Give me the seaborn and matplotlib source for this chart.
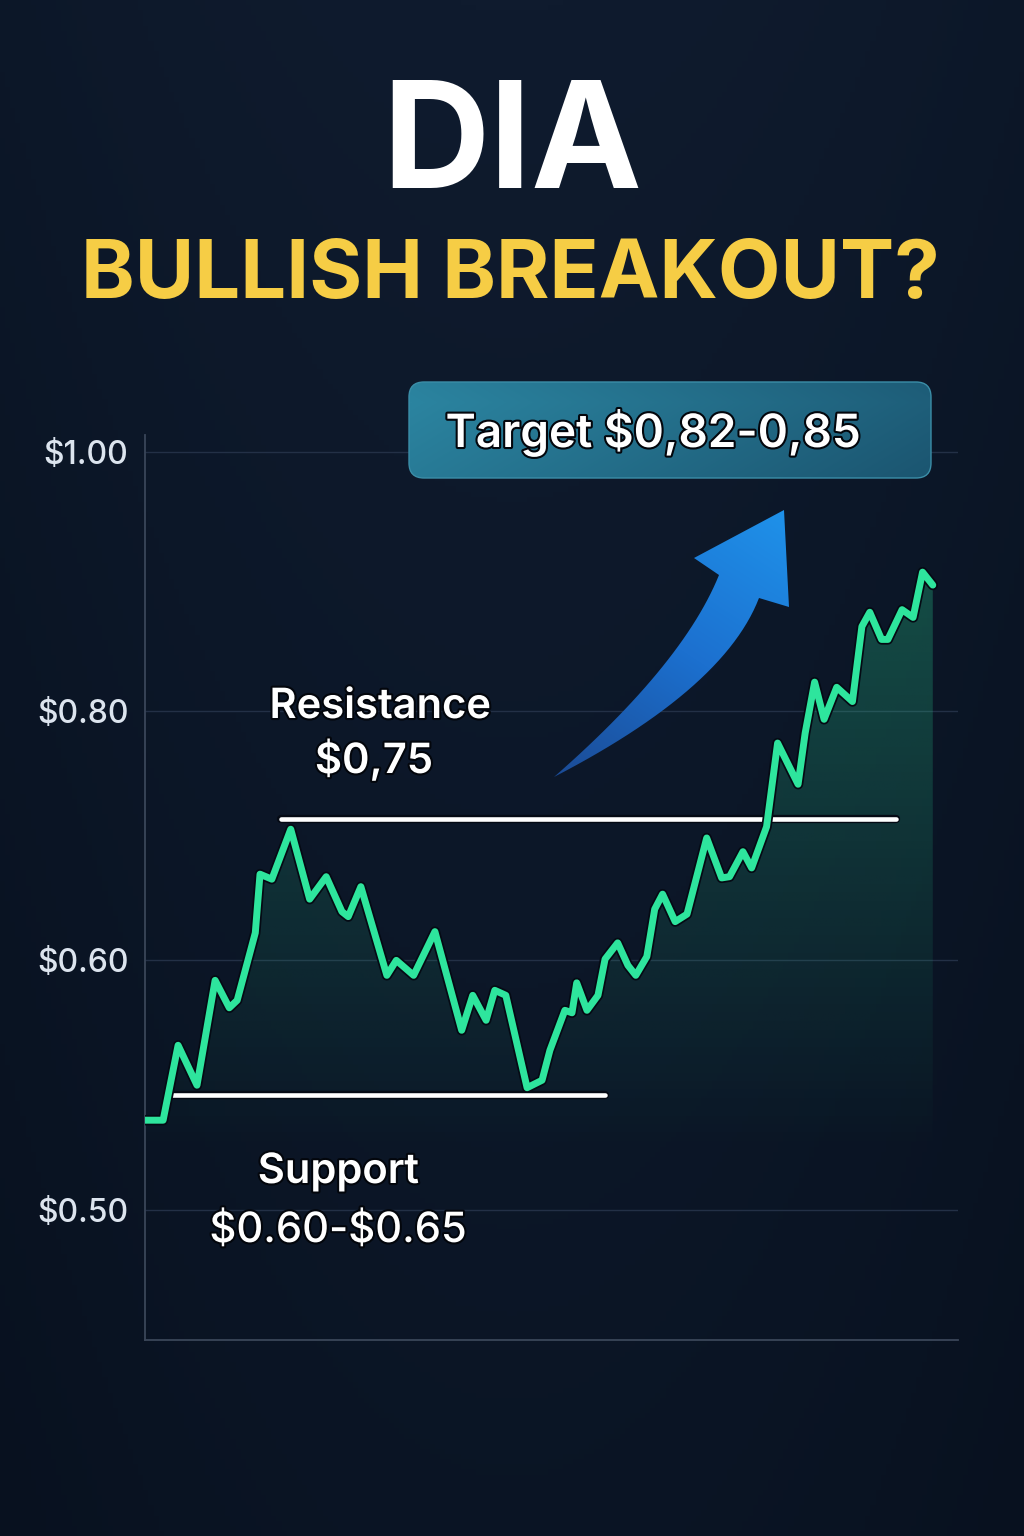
import numpy as np
import pandas as pd
import seaborn as sns
import matplotlib
matplotlib.use("Agg")
import matplotlib.pyplot as plt
import matplotlib.patheffects as pe
from matplotlib.colors import LinearSegmentedColormap
from matplotlib.patches import FancyBboxPatch, PathPatch
from matplotlib.path import Path
from matplotlib.ticker import NullLocator

# ---- data ----
days = [0, 2.3, 4.2, 6.6, 8.9, 10.7, 11.7, 14.0, 14.6, 16.1, 18.5, 20.9, 23.0, 25.0,
        25.8, 27.4, 30.7, 31.9, 34.1, 36.8, 40.2, 41.6, 43.3, 44.4, 45.8, 48.5, 50.4,
        51.4, 53.3, 54.2, 54.8, 56.1, 57.5, 58.4, 60.0, 61.3, 62.3, 63.7, 64.7, 65.7,
        67.3, 68.8, 71.3, 73.2, 74.2, 75.9, 77.0, 78.9, 80.3, 82.9, 83.8, 85.0, 86.2,
        87.8, 89.8, 91.0, 92.0, 93.5, 94.3, 96.1, 97.5, 98.7, 100.0]
prices = [0.536, 0.536, 0.566, 0.550, 0.592, 0.581, 0.584, 0.622, 0.669, 0.665,
          0.705, 0.649, 0.667, 0.639, 0.635, 0.659, 0.594, 0.600, 0.594, 0.623,
          0.572, 0.586, 0.576, 0.588, 0.586, 0.549, 0.552, 0.564, 0.580, 0.579,
          0.591, 0.580, 0.586, 0.601, 0.614, 0.598, 0.594, 0.603, 0.641, 0.653,
          0.631, 0.637, 0.698, 0.666, 0.667, 0.687, 0.674, 0.707, 0.774, 0.741,
          0.782, 0.822, 0.793, 0.818, 0.807, 0.865, 0.876, 0.855, 0.855, 0.878,
          0.872, 0.907, 0.897]

tick_values = [0.50, 0.60, 0.80, 1.00]
tick_labels = [r"\$0.50", r"\$0.60", r"\$0.80", r"\$1.00"]

resistance_level = 0.713
resistance_span = (17.3, 95.3)
support_level = 0.546
support_span = (3.4, 58.4)

title = "DIA"
subtitle = "BULLISH BREAKOUT?"
resistance_text = ["Resistance", r"\$0,75"]
support_text = ["Support", r"\$0.60-\$0.65"]
target_text = r"Target \$0,82-0,85"

# uneven price axis, as drawn in the picture
price_knots = [0.0, 0.5, 0.6, 0.8, 1.0, 2.0]
scale_knots = [-5.0, 0.0, 1.0, 2.0, 3.036, 8.216]


def forward(v):
    return np.interp(v, price_knots, scale_knots)


def inverse(u):
    return np.interp(u, scale_knots, price_knots)


BG = "#0c1628"
GREEN = "#2ee59d"
df = pd.DataFrame({"day": days, "price": prices})

sns.set_theme(style="dark")
plt.rcParams["font.family"] = ["Inter", "DejaVu Sans"]

W, H = 1024, 1536
fig = plt.figure(figsize=(W / 100, H / 100), dpi=100, facecolor=BG)


def fx(px):
    return px / W


def fy(py):
    return 1 - py / H


# background
bg_ax = fig.add_axes([0, 0, 1, 1], zorder=0)
bg_ax.axis("off")
yy = np.linspace(0, 1, 300)[:, None]
xx = np.linspace(-1, 1, 200)[None, :]
shade = 1 - 0.25 * yy - 0.15 * xx ** 2
bg_cmap = LinearSegmentedColormap.from_list("bg", ["#08111f", "#0f1b2e"])
bg_ax.imshow(shade, cmap=bg_cmap, aspect="auto", extent=[0, 1, 0, 1], vmin=0.6, vmax=1.0)

# main chart
ax = fig.add_axes([fx(145), fy(1340), fx(958) - fx(145), fy(435) - fy(1340)], zorder=1)
ax.set_facecolor("none")
ax.set_yscale("function", functions=(forward, inverse))

outline = [pe.Stroke(linewidth=7.5, foreground="#050a14"), pe.Normal()]
sns.lineplot(data=df, x="day", y="price", ax=ax, color=GREEN, linewidth=5.0,
             zorder=5, solid_joinstyle="round", solid_capstyle="round",
             path_effects=outline)

ymin, ymax = 0.448, 1.013
fill = ax.fill_between(df["day"], df["price"], ymin, color="none", lw=0)
grad = np.linspace(1, 0, 400)[:, None] * np.ones((1, 10))
alpha = np.clip((grad - 0.20) / (0.83 - 0.20), 0, 1) * 0.26
rgba = np.zeros((400, 10, 4))
rgba[..., 0] = 0x2e / 255
rgba[..., 1] = 0xe5 / 255
rgba[..., 2] = 0x9d / 255
rgba[..., 3] = alpha
im = ax.imshow(rgba, extent=[0, 1, 0, 1], transform=ax.transAxes, aspect="auto", zorder=2)
im.set_clip_path(fill.get_paths()[0], ax.transData)

line_fx = [pe.Stroke(linewidth=6.0, foreground="#050a14"), pe.Normal()]
ax.hlines(resistance_level, *resistance_span, color="white", lw=3.3,
          capstyle="round", zorder=4, path_effects=line_fx)
ax.hlines(support_level, *support_span, color="white", lw=3.3,
          capstyle="round", zorder=4, path_effects=line_fx)

ax.set_xlim(0, 103.2)
ax.set_ylim(ymin, ymax)
ax.set_yticks(tick_values)
ax.set_yticklabels(tick_labels, fontweight="medium")
ax.yaxis.set_minor_locator(NullLocator())
ax.set_xticks([])
ax.set_xlabel("")
ax.set_ylabel("")
ax.tick_params(axis="y", length=0, pad=12, labelsize=23, labelcolor="#dce4ee")
ax.grid(False)
ax.yaxis.grid(True, color="#233046", lw=1.0)
for side in ["top", "right"]:
    ax.spines[side].set_visible(False)
for side in ["left", "bottom"]:
    ax.spines[side].set_color("#3a4659")
    ax.spines[side].set_linewidth(1.3)

# overlay for arrow and target box, in pixel units
ov = fig.add_axes([0, 0, 1, 1], zorder=3)
ov.set_facecolor("none")
ov.axis("off")


def qbez(p0, c, p2, n=30):
    t = np.linspace(0, 1, n)[:, None]
    return (1 - t) ** 2 * np.array(p0) + 2 * (1 - t) * t * np.array(c) + t ** 2 * np.array(p2)


left_edge = qbez((719, 575), (683, 664), (554, 777))
right_edge = qbez((554, 777), (724, 689), (759, 598))
head = np.array([(789, 607), (784, 510), (694, 558), (719, 575)])
arrow_pts = np.vstack([right_edge, head, left_edge])
arrow_path = Path(arrow_pts, closed=False)
arrow_patch = PathPatch(arrow_path, facecolor="none", edgecolor="none")
ov.add_patch(arrow_patch)
gy, gx = np.mgrid[510:778, 554:790]
t = ((gx - 554) * 0.55 + (777 - gy) * 0.85)
t = t / t.max()
arrow_cmap = LinearSegmentedColormap.from_list("arrow", ["#1b4b95", "#1c70cf", "#1f92ea"])
aim = ov.imshow(t, cmap=arrow_cmap, extent=[554, 790, 778, 510], aspect="auto", zorder=4)
aim.set_clip_path(arrow_patch)

box = FancyBboxPatch((409, 382), 522, 96, boxstyle="round,pad=0,rounding_size=15",
                     facecolor="none", edgecolor="#3b8ea8", lw=1.0, zorder=6)
ov.add_patch(box)
by, bx = np.mgrid[0:96, 0:522]
bval = 1 - bx / 521 * 0.8 - np.abs(by - 20) / 96 * 0.25
box_cmap = LinearSegmentedColormap.from_list("box", ["#1b5570", "#2b84a0"])
bim = ov.imshow(bval, cmap=box_cmap, extent=[409, 931, 478, 382], aspect="auto",
                zorder=5, vmin=0, vmax=1)
bim.set_clip_path(box)

ov.set_xlim(0, W)
ov.set_ylim(H, 0)

# texts
txt_fx = [pe.withStroke(linewidth=3, foreground="#03060c")]
fig.text(fx(512), fy(188), title, ha="center", va="baseline", color="white",
         fontsize=107, fontweight="bold", zorder=10)
fig.text(fx(510), fy(298), subtitle, ha="center", va="baseline", color="#f6cd45",
         fontsize=58.5, fontweight="bold", zorder=10)
fig.text(fx(380), fy(718), resistance_text[0], ha="center", va="baseline", color="white",
         fontsize=30, fontweight="semibold", path_effects=txt_fx, zorder=10)
fig.text(fx(374), fy(773), resistance_text[1], ha="center", va="baseline", color="white",
         fontsize=30, fontweight="semibold", path_effects=txt_fx, zorder=10)
fig.text(fx(338), fy(1183), support_text[0], ha="center", va="baseline", color="white",
         fontsize=30, fontweight="semibold", path_effects=txt_fx, zorder=10)
fig.text(fx(338), fy(1242), support_text[1], ha="center", va="baseline", color="white",
         fontsize=30, fontweight="medium", path_effects=txt_fx, zorder=10)
fig.text(fx(653), fy(447), target_text, ha="center", va="baseline", color="white",
         fontsize=33, fontweight="semibold", path_effects=txt_fx, zorder=10)

fig.savefig("out.png", dpi=100, facecolor=BG)
